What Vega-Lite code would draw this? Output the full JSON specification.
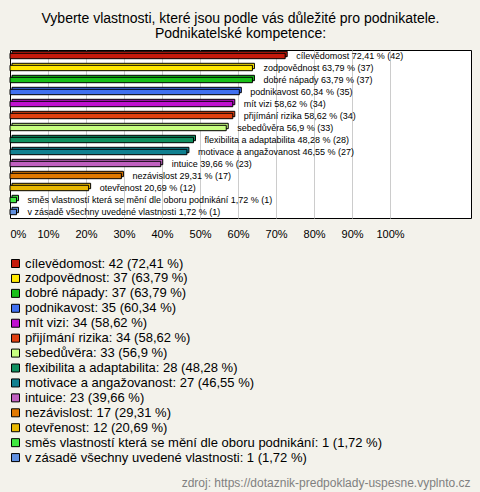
{
  "$schema": "https://vega.github.io/schema/vega-lite/v6.json",
  "width": 461,
  "height": 168,
  "autosize": {"type": "none"},
  "padding": {"left": 10, "top": 50, "right": 9, "bottom": 274},
  "background": "#f3f2eb",
  "title": {
    "text": ["Vyberte vlastnosti, které jsou podle vás důležité pro podnikatele.", "Podnikatelské kompetence:"],
    "font": "Liberation Sans",
    "fontSize": 14,
    "fontWeight": "normal",
    "color": "#000",
    "anchor": "middle",
    "lineHeight": 15,
    "offset": 9
  },
  "config": {
    "view": {"stroke": "#000", "strokeWidth": 1, "fill": "#ffffff"},
    "font": "Liberation Sans"
  },
  "data": {
    "values": [
      {"name": "cílevědomost", "count": 42, "pct": 72.41, "label": "cílevědomost 72,41 % (42)", "legend": "cílevědomost: 42 (72,41 %)"},
      {"name": "zodpovědnost", "count": 37, "pct": 63.79, "label": "zodpovědnost 63,79 % (37)", "legend": "zodpovědnost: 37 (63,79 %)"},
      {"name": "dobré nápady", "count": 37, "pct": 63.79, "label": "dobré nápady 63,79 % (37)", "legend": "dobré nápady: 37 (63,79 %)"},
      {"name": "podnikavost", "count": 35, "pct": 60.34, "label": "podnikavost 60,34 % (35)", "legend": "podnikavost: 35 (60,34 %)"},
      {"name": "mít vizi", "count": 34, "pct": 58.62, "label": "mít vizi 58,62 % (34)", "legend": "mít vizi: 34 (58,62 %)"},
      {"name": "přijímání rizika", "count": 34, "pct": 58.62, "label": "přijímání rizika 58,62 % (34)", "legend": "přijímání rizika: 34 (58,62 %)"},
      {"name": "sebedůvěra", "count": 33, "pct": 56.9, "label": "sebedůvěra 56,9 % (33)", "legend": "sebedůvěra: 33 (56,9 %)"},
      {"name": "flexibilita a adaptabilita", "count": 28, "pct": 48.28, "label": "flexibilita a adaptabilita 48,28 % (28)", "legend": "flexibilita a adaptabilita: 28 (48,28 %)"},
      {"name": "motivace a angažovanost", "count": 27, "pct": 46.55, "label": "motivace a angažovanost 46,55 % (27)", "legend": "motivace a angažovanost: 27 (46,55 %)"},
      {"name": "intuice", "count": 23, "pct": 39.66, "label": "intuice 39,66 % (23)", "legend": "intuice: 23 (39,66 %)"},
      {"name": "nezávislost", "count": 17, "pct": 29.31, "label": "nezávislost 29,31 % (17)", "legend": "nezávislost: 17 (29,31 %)"},
      {"name": "otevřenost", "count": 12, "pct": 20.69, "label": "otevřenost 20,69 % (12)", "legend": "otevřenost: 12 (20,69 %)"},
      {"name": "směs vlastností která se mění dle oboru podnikání", "count": 1, "pct": 1.72, "label": "směs vlastností která se mění dle oboru podnikání 1,72 % (1)", "legend": "směs vlastností která se mění dle oboru podnikání: 1 (1,72 %)"},
      {"name": " v zásadě všechny uvedené vlastnosti", "count": 1, "pct": 1.72, "label": " v zásadě všechny uvedené vlastnosti 1,72 % (1)", "legend": "\u00a0v zásadě všechny uvedené vlastnosti: 1 (1,72 %)"}
    ]
  },
  "encoding": {
    "y": {"field": "name", "type": "nominal", "sort": null, "axis": null,
          "scale": {"paddingInner": 0.55, "paddingOuter": 0.275}},
    "x": {"field": "pct", "type": "quantitative",
          "scale": {"domain": [0, 121.3], "nice": false, "zero": true},
          "axis": {
            "values": [0, 10, 20, 30, 40, 50, 60, 70, 80, 90, 100],
            "labelExpr": "datum.value + '%'",
            "grid": true,
            "gridColor": "#cccccc",
            "gridOpacity": {"condition": {"test": "datum.value === 0", "value": 0}, "value": 1},
            "ticks": false,
            "domain": false,
            "labelFontSize": 11,
            "labelColor": "#000",
            "labelPadding": 10,
            "labelFont": "Liberation Sans",
            "title": "zdroj: https://dotaznik-predpoklady-uspesne.vyplnto.cz",
            "titleFontSize": 12,
            "titleFontWeight": "normal",
            "titleColor": "#808080",
            "titleFont": "Liberation Sans",
            "titleAnchor": "end",
            "titleAlign": "right",
            "titleBaseline": "alphabetic",
            "titleX": 460,
            "titleY": 268
          }},
    "fill": {"field": "legend", "type": "nominal", "sort": null,
             "scale": {"range": ["#c41a0c", "#ffe800", "#18c018", "#4070f0", "#c010d0", "#e04010", "#c8ff80", "#109060", "#108090", "#c060c0", "#e07800", "#e8b800", "#40e840", "#6090e0"]},
             "legend": {
               "orient": "none",
               "legendX": -1,
               "legendY": 207,
               "direction": "vertical",
               "title": null,
               "symbolType": "square",
               "symbolSize": 64,
               "symbolStrokeColor": "#000",
               "symbolStrokeWidth": 1,
               "symbolOpacity": 1,
               "labelFontSize": 13,
               "labelFont": "Liberation Sans",
               "labelColor": "#000",
               "labelLimit": 0,
               "labelOffset": 3,
               "rowPadding": 0.93,
               "padding": 0,
               "symbolOffset": 0
             }}
  },
  "layer": [
    {
      "mark": {"type": "bar", "xOffset": 2, "yOffset": -2, "stroke": "#000", "strokeWidth": 1}
    },
    {
      "mark": {"type": "bar", "stroke": "#000", "strokeWidth": 1}
    },
    {
      "mark": {"type": "text", "align": "left", "baseline": "middle", "dx": 11, "fontSize": 9, "font": "Liberation Sans"},
      "encoding": {"text": {"field": "label"}, "fill": {"value": "#000"}}
    }
  ]
}
